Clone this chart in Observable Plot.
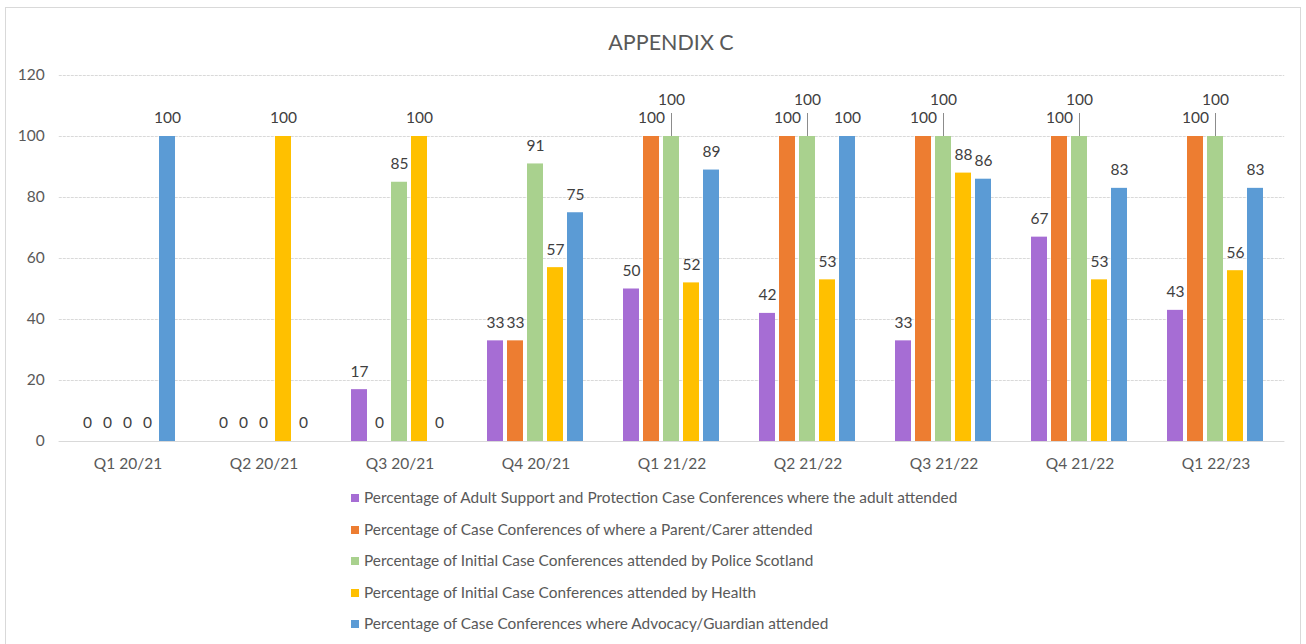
<!DOCTYPE html>
<html>
<head>
<meta charset="utf-8">
<script src="https://cdn.jsdelivr.net/npm/d3@7"></script>
<script src="https://cdn.jsdelivr.net/npm/@observablehq/plot@0.6"></script>
<style>
  html, body { margin: 0; padding: 0; background: #fff; }
  #wrap { position: relative; width: 1306px; height: 644px; overflow: hidden; font-family: Lato, "Open Sans", sans-serif; color: #595959; }
  #frame { position: absolute; left: 5px; top: 7px; width: 1296px; height: 700px; border: 1px solid #d9d9d9; box-sizing: border-box; }
  #title { position: relative; height: 60px; box-sizing: border-box; padding-top: 30px; padding-left: 36px; text-align: center; font-size: 21.5px; line-height: 24px; color: #595959; }
  #chart { position: relative; height: 420px; }
  #legend { position: relative; padding-top: 2px; padding-left: 351px; font-size: 15.4px; color: #595959; }
  .item { height: 31.5px; line-height: 31.5px; white-space: nowrap; }
  .sw { display: inline-block; width: 8px; height: 8px; margin-right: 5px; vertical-align: middle; position: relative; top: -1px; }
</style>
</head>
<body>
<div id="wrap">
  <div id="frame"></div>
  <div id="title">APPENDIX C</div>
  <div id="chart"></div>
  <div id="legend"></div>
</div>
<script>
const quarters = ["Q1 20/21", "Q2 20/21", "Q3 20/21", "Q4 20/21", "Q1 21/22", "Q2 21/22", "Q3 21/22", "Q4 21/22", "Q1 22/23"];
const seriesNames = [
  "Percentage of Adult Support and Protection Case Conferences where the adult attended",
  "Percentage of Case Conferences of where a Parent/Carer attended",
  "Percentage of Initial Case Conferences attended by Police Scotland",
  "Percentage of Initial Case Conferences attended by Health",
  "Percentage of Case Conferences where Advocacy/Guardian attended"
];
const adultAttended  = [0, 0, 17, 33, 50, 42, 33, 67, 43];
const parentCarer    = [0, 0, 0, 33, 100, 100, 100, 100, 100];
const policeScotland = [0, 0, 85, 91, 100, 100, 100, 100, 100];
const health         = [0, 100, 100, 57, 52, 53, 88, 53, 56];
const advocacy       = [100, 0, 0, 75, 89, 100, 86, 83, 83];
const yTicks = [0, 20, 40, 60, 80, 100, 120];
const colors = ["#A66DD4", "#ED7D31", "#A9D18E", "#FFC000", "#5B9BD5"];

const seriesValues = [adultAttended, parentCarer, policeScotland, health, advocacy];
const rows = [];
quarters.forEach((q, qi) => {
  seriesValues.forEach((vals, si) => {
    // label of Police Scotland bar is lifted when it collides with the Parent/Carer label
    const lifted = si === 2 && vals[qi] > 0 && vals[qi] === parentCarer[qi];
    rows.push({quarter: q, series: seriesNames[si], value: vals[qi], lifted});
  });
});
const normal = rows.filter(d => !d.lifted);
const lifted = rows.filter(d => d.lifted);

const W = 1306, mL = 58, mR = 21;
const pInner = 0.26, pOuter = pInner / 2;
// half of the gap between facets, so grid lines run continuously across the gaps
const halfGap = ((W - mL - mR) / quarters.length) * pInner / 2;

const chart = Plot.plot({
  width: W,
  height: 420,
  marginTop: 15,
  marginBottom: 39,
  marginLeft: mL,
  marginRight: mR,
  style: {fontFamily: "Lato, 'Open Sans', sans-serif", fontSize: "15.5px", color: "#595959", background: "transparent"},
  fx: {domain: quarters, paddingInner: pInner, paddingOuter: pOuter, label: null, tickSize: 0, tickPadding: 16},
  x: {domain: seriesNames, paddingInner: 0.19, paddingOuter: 0, axis: null},
  y: {domain: [0, 120], ticks: yTicks.length - 1, tickSize: 0, tickPadding: 15 + halfGap, label: null},
  color: {domain: seriesNames, range: colors},
  marks: [
    Plot.ruleY(yTicks, {y: d => d, stroke: "#d9d9d9", strokeDasharray: "3,1", insetLeft: -halfGap - 0.5, insetRight: -halfGap - 0.5}),
    Plot.ruleY([0], {stroke: "#d9d9d9", insetLeft: -halfGap - 0.5, insetRight: -halfGap - 0.5}),
    Plot.barY(rows, {fx: "quarter", x: "series", y: "value", fill: "series"}),
    Plot.text(normal, {fx: "quarter", x: "series", y: "value", text: d => String(d.value), dy: -18, fill: "#404040", fontSize: 15.5}),
    Plot.text(lifted, {fx: "quarter", x: "series", y: "value", text: d => String(d.value), dy: -36, fill: "#404040", fontSize: 15.5}),
    Plot.ruleX(lifted, {fx: "quarter", x: "series", y1: "value", y2: "value", insetTop: -23, stroke: "#8c8c8c"})
  ]
});
document.getElementById("chart").appendChild(chart);

const legend = document.getElementById("legend");
seriesNames.forEach((name, i) => {
  const item = document.createElement("div");
  item.className = "item";
  const sw = document.createElement("span");
  sw.className = "sw";
  sw.style.background = colors[i];
  item.appendChild(sw);
  item.appendChild(document.createTextNode(name));
  legend.appendChild(item);
});
</script>
</body>
</html>
